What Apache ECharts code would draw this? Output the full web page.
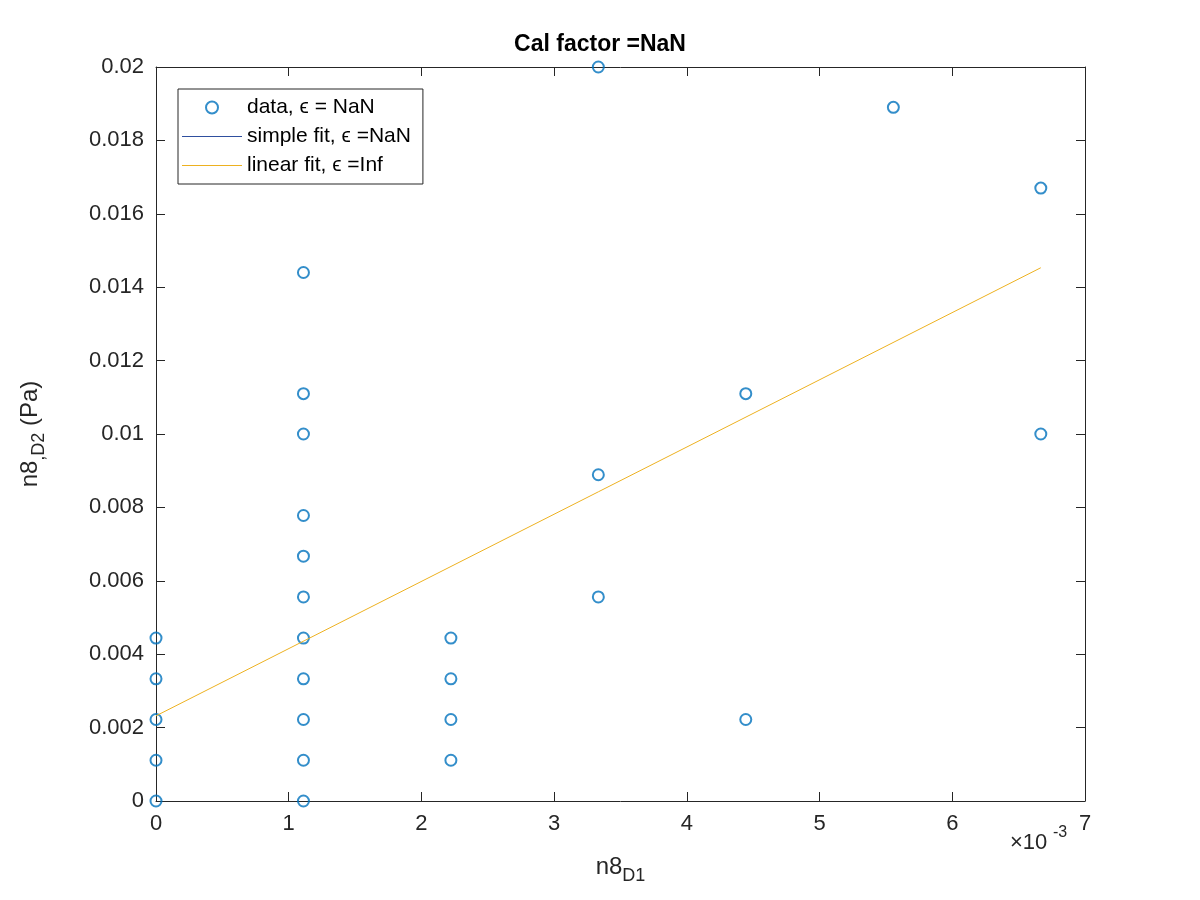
<!DOCTYPE html>
<html>
<head>
<meta charset="utf-8">
<script src="https://cdn.jsdelivr.net/npm/echarts@6/dist/echarts.min.js"></script>
<style>html,body{margin:0;background:#fff}#c{width:1200px;height:900px}</style>
</head>
<body>
<div id="c"></div>
<script>
// x in units of 1e-3
const dataX = [0,0,0,0,0, 1.111,1.111,1.111,1.111,1.111,1.111,1.111,1.111,1.111,1.111,1.111,
  2.222,2.222,2.222,2.222, 3.333,3.333,3.333, 4.444,4.444, 5.556, 6.667,6.667];
const dataY = [0,0.00111,0.00222,0.00333,0.00444,
  0,0.00111,0.00222,0.00333,0.00444,0.00556,0.00667,0.00778,0.01,0.0111,0.0144,
  0.00111,0.00222,0.00333,0.00444, 0.00556,0.00889,0.02, 0.00222,0.0111, 0.0189, 0.01,0.0167];
const fitX = [0, 6.667];
const fitY = [0.00232, 0.01453];

const chart = echarts.init(document.getElementById('c'));
const font = 'Helvetica, Arial, sans-serif';
const lineIcon = 'path://M0,0 L60,0 L60,1 L0,1 Z';
const axCommon = {
  axisLine: {show: true, onZero: false, lineStyle: {color: '#262626', width: 1}},
  axisTick: {show: true, inside: true, length: 9, lineStyle: {color: '#262626'}},
  splitLine: {show: false}
};
chart.setOption({
  animation: false,
  textStyle: {fontFamily: font},
  title: {text: 'Cal factor =NaN', left: 'center', top: 28,
    textStyle: {fontSize: 23, fontWeight: 'bold', color: '#000'}},
  grid: {left: 156, right: 115, top: 67, bottom: 99},
  legend: {
    orient: 'vertical', left: 178, top: 89, itemGap: 8, itemWidth: 60, itemHeight: 12,
    backgroundColor: '#fff', borderColor: '#262626', borderWidth: 1, borderRadius: 0, padding: [8, 12, 8, 4],
    textStyle: {fontSize: 21, color: '#000'},
    data: [
      {name: 'data, ϵ = NaN', icon: 'circle', itemStyle: {color: '#fff', borderColor: '#0072BD', borderWidth: 2}},
      {name: 'simple fit, ϵ =NaN', icon: lineIcon, itemStyle: {color: '#2F4F9F'}},
      {name: 'linear fit, ϵ =Inf', icon: lineIcon, itemStyle: {color: '#EDB120'}}
    ]
  },
  xAxis: [Object.assign({
    type: 'value', min: 0, max: 7, interval: 1, position: 'bottom',
    axisLabel: {fontSize: 22, color: '#262626', margin: 12},
    name: '{a|n8}{s|D1}', nameLocation: 'middle', nameGap: 48,
    nameTextStyle: {rich: {a: {fontSize: 24, color: '#262626'}, s: {fontSize: 18, color: '#262626', padding: [18,0,0,0]}}}
  }, axCommon), Object.assign({
    type: 'value', min: 0, max: 7, interval: 1, position: 'top', axisLabel: {show: false}
  }, axCommon)],
  yAxis: [Object.assign({
    type: 'value', min: 0, max: 0.02, interval: 0.002, position: 'left',
    axisLabel: {fontSize: 22, color: '#262626', margin: 12, formatter: v => String(+v.toFixed(3))},
    name: '{a|n8}{s|,D2}{a| (Pa)}', nameLocation: 'middle', nameGap: 108,
    nameTextStyle: {rich: {a: {fontSize: 24, color: '#262626'}, s: {fontSize: 18, color: '#262626', padding: [18,0,0,0]}}}
  }, axCommon), Object.assign({
    type: 'value', min: 0, max: 0.02, interval: 0.002, position: 'right', axisLabel: {show: false}
  }, axCommon)],
  graphic: [{type: 'text', left: 1010, top: 832,
    style: {text: '×10', fontSize: 22, fill: '#262626', fontFamily: font}},
    {type: 'text', left: 1053, top: 825,
    style: {text: '-3', fontSize: 16, fill: '#262626', fontFamily: font}}],
  series: [
    {name: 'data, ϵ = NaN', type: 'scatter', symbol: 'circle', symbolSize: 11,
      itemStyle: {color: 'rgba(0,0,0,0)', borderColor: '#0072BD', borderWidth: 2},
      data: dataX.map((x, i) => [x, dataY[i]])},
    {name: 'simple fit, ϵ =NaN', type: 'line', data: [], color: '#2F4F9F', lineStyle: {width: 1}, symbol: 'none'},
    {name: 'linear fit, ϵ =Inf', type: 'line', color: '#EDB120', lineStyle: {width: 1}, symbol: 'none',
      data: fitX.map((x, i) => [x, fitY[i]])}
  ]
});
</script>
</body>
</html>
